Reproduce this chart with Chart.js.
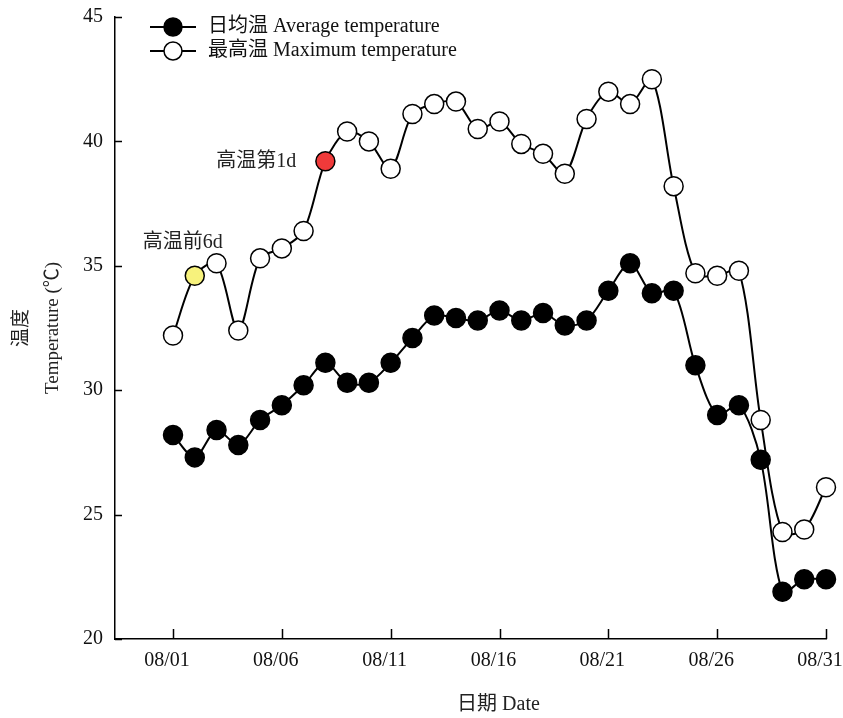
<!DOCTYPE html>
<html>
<head>
<meta charset="utf-8">
<script src="https://cdn.jsdelivr.net/npm/chart.js@4/dist/chart.umd.min.js"></script>
<style>
  html, body { margin: 0; padding: 0; background: #fff; }
  #wrap { width: 843px; height: 718px; }
</style>
</head>
<body>
<div id="wrap"><canvas id="c" width="843" height="718"></canvas></div>
<script>
// Daily temperatures, August
const days = [1, 2, 3, 4, 5, 6, 7, 8, 9, 10, 11, 12, 13, 14, 15, 16, 17, 18, 19, 20, 21, 22, 23, 24, 25, 26, 27, 28, 29, 30, 31];
const avgTemp = [28.2, 27.3, 28.4, 27.8, 28.8, 29.4, 30.2, 31.1, 30.3, 30.3, 31.1, 32.1, 33.0, 32.9, 32.8, 33.2, 32.8, 33.1, 32.6, 32.8, 34.0, 35.1, 33.9, 34.0, 31.0, 29.0, 29.4, 27.2, 21.9, 22.4, 22.4];
const maxTemp = [32.2, 34.6, 35.1, 32.4, 35.3, 35.7, 36.4, 39.2, 40.4, 40.0, 38.9, 41.1, 41.5, 41.6, 40.5, 40.8, 39.9, 39.5, 38.7, 40.9, 42.0, 41.5, 42.5, 38.2, 34.7, 34.6, 34.8, 28.8, 24.3, 24.4, 26.1];
const tickDays = [1, 6, 11, 16, 21, 26, 31];
const tickLabels = ['08/01', '08/06', '08/11', '08/16', '08/21', '08/26', '08/31'];
const seriesNames = ['日均温 Average temperature', '最高温 Maximum temperature'];
const xTitle = '日期 Date';
// marked days on the maximum-temperature series
const markDays = [2, 8];
const markTexts = ['高温前6d', '高温第1d'];
const markColors = ['#f7f27c', '#f03a3a'];

const FONT = "'Liberation Serif', 'Noto Sans CJK SC', serif";

const maxFill = maxTemp.map((v, i) => {
  const k = markDays.indexOf(days[i]);
  return k >= 0 ? markColors[k] : '#ffffff';
});

const extras = {
  id: 'extras',
  afterDraw(chart) {
    const ctx = chart.ctx;
    const xs = chart.scales.x, ys = chart.scales.y;
    const area = chart.chartArea;
    ctx.save();
    ctx.strokeStyle = '#000';
    ctx.lineWidth = 1.5;
    // inward tick marks
    ctx.beginPath();
    tickDays.forEach(d => {
      const px = Math.round(xs.getPixelForValue(d)) + 0.5;
      ctx.moveTo(px, area.bottom);
      ctx.lineTo(px, area.bottom - 10);
    });
    ys.ticks.forEach(t => {
      const py = Math.round(ys.getPixelForValue(t.value)) + 0.5;
      ctx.moveTo(area.left, py);
      ctx.lineTo(area.left + 7, py);
    });
    ctx.stroke();

    ctx.font = '20px ' + FONT;
    ctx.fillStyle = '#222';
    ctx.textBaseline = 'middle';

    // x-axis title
    ctx.textAlign = 'center';
    ctx.fillText(xTitle, (area.left + area.right) / 2 + 28, 705);

    // marked point labels
    const meta = chart.getDatasetMeta(1);
    const p0 = meta.data[markDays[0] - 1];
    ctx.textAlign = 'right';
    ctx.fillText(markTexts[0], p0.x + 28, p0.y - 33);
    const p1 = meta.data[markDays[1] - 1];
    ctx.fillText(markTexts[1], p1.x - 29, p1.y);

    // legend
    const rows = [27, 51];
    chart.data.datasets.forEach((ds, i) => {
      const y = rows[i];
      ctx.beginPath();
      ctx.lineWidth = 2;
      ctx.moveTo(150, y);
      ctx.lineTo(196, y);
      ctx.stroke();
      ctx.beginPath();
      ctx.arc(173, y, 9, 0, Math.PI * 2);
      ctx.fillStyle = i === 0 ? '#000' : '#fff';
      ctx.fill();
      ctx.lineWidth = 1.5;
      ctx.stroke();
      ctx.fillStyle = '#111';
      ctx.textAlign = 'left';
      ctx.fillText(seriesNames[i], 208, y);
    });
    ctx.restore();
  }
};

new Chart(document.getElementById('c'), {
  type: 'line',
  data: {
    datasets: [
      {
        label: seriesNames[0],
        data: days.map((d, i) => ({ x: d, y: avgTemp[i] })),
        borderColor: '#000',
        borderWidth: 2,
        pointRadius: 9.5,
        pointBorderWidth: 1.5,
        pointBackgroundColor: '#000',
        pointBorderColor: '#000',
        tension: 0.3,
        clip: false
      },
      {
        label: seriesNames[1],
        data: days.map((d, i) => ({ x: d, y: maxTemp[i] })),
        borderColor: '#000',
        borderWidth: 2,
        pointRadius: 9.5,
        pointBorderWidth: 1.5,
        pointBackgroundColor: maxFill,
        pointBorderColor: '#000',
        tension: 0.3,
        clip: false
      }
    ]
  },
  options: {
    responsive: false,
    animation: false,
    devicePixelRatio: 1,
    layout: { padding: { left: 0, right: 17, top: 17, bottom: 0 } },
    plugins: { legend: { display: false }, tooltip: { enabled: false } },
    scales: {
      x: {
        type: 'linear',
        min: -1.665,
        max: 31,
        afterBuildTicks(scale) { scale.ticks = tickDays.map(v => ({ value: v })); },
        afterFit(scale) { scale.height = 79; scale.paddingLeft = 0; scale.paddingRight = 0; },
        grid: { display: false, drawTicks: false },
        border: { display: true, color: '#000', width: 1.5 },
        ticks: {
          autoSkip: false,
          maxRotation: 0,
          padding: 10,
          labelOffset: -6,
          color: '#111',
          font: { family: FONT, size: 20 },
          callback: v => tickLabels[tickDays.indexOf(v)]
        },
        title: { display: false }
      },
      y: {
        min: 20,
        max: 45,
        afterFit(scale) { scale.width = 115; scale.paddingTop = 0; scale.paddingBottom = 0; },
        grid: { display: false, drawTicks: false },
        border: { display: true, color: '#000', width: 1.5 },
        ticks: {
          stepSize: 5,
          padding: 12,
          color: '#111',
          font: { family: FONT, size: 20 }
        },
        title: {
          display: true,
          text: ['温度', 'Temperature (℃)'],
          color: '#222',
          font: { family: FONT, size: 19, lineHeight: 1.6 },
          padding: { top: 7, bottom: 0 }
        }
      }
    }
  },
  plugins: [extras]
});
</script>
</body>
</html>
